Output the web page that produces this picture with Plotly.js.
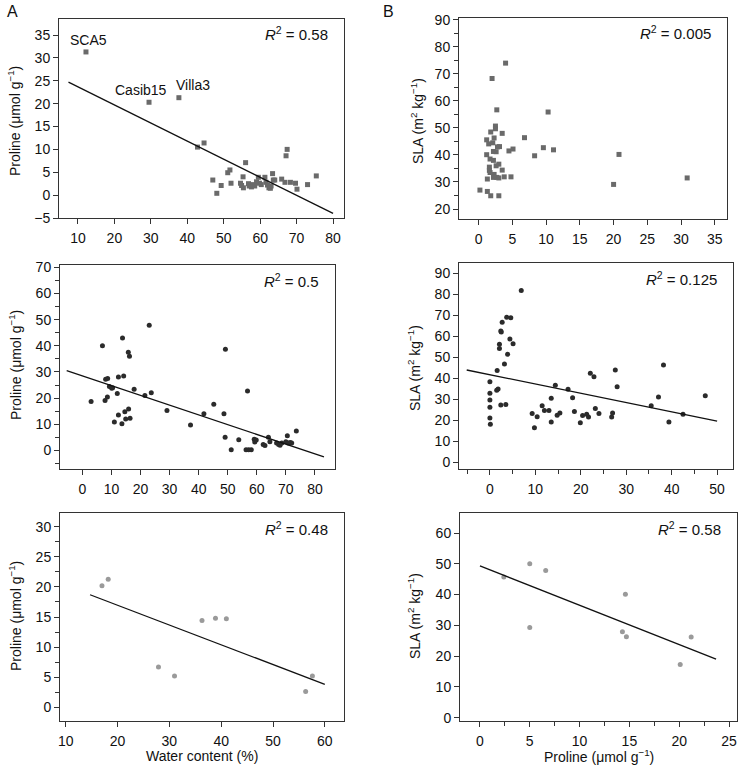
<!DOCTYPE html>
<html>
<head>
<meta charset="utf-8">
<script src="https://cdn.plot.ly/plotly-3.0.1.min.js"></script>
<style>
  body { margin: 0; background: #fff; }
  #plotlyDiv { width: 740px; height: 771px; }
</style>
</head>
<body>
<div id="plotlyDiv"></div>
<script>
// Panel A, top: water content vs proline (squares)
const p1Water = [12.2, 29.5, 37.7, 42.8, 44.6, 47.0, 48.1, 49.3, 51.1, 51.7, 52.0, 55.3, 54.6, 54.9, 55.4, 56.0, 56.8, 57.0, 57.6, 58.0, 58.5, 59.0, 59.5, 59.8, 60.3, 61.3, 61.6, 62.0, 62.4, 62.8, 63.0, 63.4, 63.6, 64.0, 65.9, 66.8, 67.1, 67.4, 68.3, 69.7, 70.1, 73.0, 75.4];
const p1Proline = [31.3, 20.3, 21.3, 10.5, 11.4, 3.3, 0.4, 2.1, 4.9, 5.5, 2.6, 4.0, 2.6, 2.1, 1.6, 7.1, 2.5, 2.0, 1.8, 2.3, 2.0, 2.9, 3.9, 2.6, 2.3, 3.9, 2.8, 2.2, 1.6, 1.5, 2.0, 4.7, 3.3, 3.3, 3.5, 2.8, 8.6, 10.0, 2.8, 2.6, 1.3, 2.3, 4.2];
const p1FitX = [7.4, 80];
const p1FitY = [24.7, -4.0];
const p1Names = ["SCA5", "Casib15", "Villa3"];

// Panel B, top: proline vs SLA (squares)
const p2Proline = [0.2, 1.3, 1.8, 3.0, 1.3, 1.2, 1.2, 1.5, 1.8, 2.0, 2.7, 2.5, 2.5, 2.3, 2.1, 3.5, 4.0, 3.1, 2.8, 2.6, 2.2, 1.7, 2.2, 1.6, 1.6, 1.7, 3.0, 2.6, 3.5, 2.3, 2.2, 2.7, 3.0, 3.8, 4.8, 4.5, 5.1, 6.8, 8.3, 9.6, 10.3, 11.1, 20.0, 20.8, 30.9];
const p2SLA = [27.0, 26.5, 24.9, 24.9, 31.1, 40.1, 45.6, 44.1, 48.5, 68.3, 56.7, 50.7, 49.7, 46.3, 44.5, 48.0, 74.0, 43.1, 43.0, 41.2, 41.3, 38.5, 38.0, 35.5, 34.3, 33.5, 36.6, 36.0, 34.4, 32.8, 31.7, 31.7, 31.5, 31.9, 31.9, 41.5, 42.2, 46.4, 39.7, 42.7, 55.9, 41.9, 29.1, 40.2, 31.5];

// Panel A, middle: water content vs proline (black dots)
const p3Water = [3.0, 6.9, 7.8, 8.0, 8.7, 8.6, 9.3, 10.1, 10.4, 11.0, 12.4, 12.0, 12.4, 13.8, 13.6, 14.2, 14.6, 14.9, 15.8, 16.2, 15.9, 16.4, 17.8, 21.5, 23.0, 23.7, 29.1, 37.2, 41.8, 45.2, 48.7, 49.2, 49.1, 51.2, 53.8, 56.8, 56.3, 57.2, 58.1, 59.1, 59.3, 59.8, 62.2, 62.8, 64.0, 64.5, 66.8, 67.5, 68.0, 68.6, 70.0, 70.5, 70.8, 71.5, 72.0, 73.6];
const p3Proline = [18.7, 40.0, 19.1, 27.2, 27.5, 20.4, 24.4, 23.8, 24.0, 10.9, 28.1, 21.8, 13.5, 43.0, 10.2, 28.5, 14.8, 12.0, 37.5, 36.0, 15.8, 12.3, 23.4, 21.0, 47.9, 22.1, 15.3, 9.7, 14.0, 17.7, 14.0, 38.7, 5.0, 0.3, 4.1, 22.7, 0.3, 0.3, 0.3, 4.3, 3.2, 4.0, 2.3, 1.9, 5.0, 3.3, 2.8, 2.3, 2.0, 2.8, 3.3, 5.6, 2.8, 3.0, 2.8, 7.4];
const p3FitX = [-5.4, 83.1];
const p3FitY = [30.5, -2.5];

// Panel B, middle: proline vs SLA (black dots)
const p4Proline = [0, 0, 0, 0, 0, 0.1, 1.6, 1.5, 1.8, 2.1, 2.1, 2.4, 2.5, 2.4, 2.7, 3.2, 3.7, 4.6, 3.9, 3.5, 4.4, 5.1, 6.9, 9.3, 9.8, 10.4, 11.5, 12.0, 13.0, 13.5, 13.5, 14.4, 14.8, 15.4, 17.2, 18.2, 18.6, 19.9, 20.4, 21.3, 21.7, 22.1, 22.9, 23.2, 24.0, 26.8, 27.0, 27.6, 28.0, 35.5, 37.1, 38.2, 39.4, 42.5, 47.4];
const p4SLA = [38.3, 32.8, 29.6, 26.2, 21.1, 18.1, 43.7, 34.3, 34.8, 56.1, 54.1, 62.5, 62.0, 27.2, 66.6, 46.7, 69.0, 68.7, 51.4, 27.5, 58.7, 56.4, 81.7, 23.2, 16.4, 21.6, 26.9, 24.6, 24.6, 30.5, 19.1, 36.7, 22.4, 23.5, 34.7, 30.7, 24.2, 18.8, 22.3, 22.9, 21.5, 42.3, 40.7, 25.6, 23.2, 21.5, 23.5, 43.9, 35.9, 26.9, 31.0, 46.3, 19.2, 22.9, 31.6];
const p4FitX = [-5.1, 50];
const p4FitY = [43.9, 19.6];

// Panel A, bottom: water content vs proline (grey dots)
const p5Water = [17.0, 18.2, 27.9, 31.0, 36.3, 38.9, 41.0, 56.3, 57.6];
const p5Proline = [20.2, 21.3, 6.7, 5.2, 14.4, 14.8, 14.7, 2.6, 5.2];
const p5FitX = [14.7, 60];
const p5FitY = [18.7, 3.8];

// Panel B, bottom: proline vs SLA (grey dots)
const p6Proline = [2.4, 5.0, 5.0, 6.6, 14.3, 14.6, 14.7, 20.1, 21.2];
const p6SLA = [45.7, 50.0, 29.3, 47.8, 27.9, 40.1, 26.3, 17.3, 26.2];
const p6FitX = [0, 23.7];
const p6FitY = [49.3, 19.0];

const rSquared = ["0.58", "0.005", "0.5", "0.125", "0.48", "0.58"];

const W = 740, H = 771;
const FONT = "Liberation Sans, Arial, sans-serif";

function pts(x, y, n, symbol, color) {
  return {
    x: x, y: y, xaxis: 'x' + (n === 1 ? '' : n), yaxis: 'y' + (n === 1 ? '' : n),
    type: 'scatter', mode: 'markers',
    marker: { symbol: symbol, size: 5, color: color },
    hoverinfo: 'x+y', showlegend: false
  };
}

function fit(x, y, n) {
  return {
    x: x, y: y, xaxis: 'x' + (n === 1 ? '' : n), yaxis: 'y' + (n === 1 ? '' : n),
    type: 'scatter', mode: 'lines',
    line: { color: '#111', width: 1.3 },
    hoverinfo: 'skip', showlegend: false
  };
}

const data = [
  pts(p1Water, p1Proline, 1, 'square', '#6a6a6a'),
  fit(p1FitX, p1FitY, 1),
  pts(p2Proline, p2SLA, 2, 'square', '#6a6a6a'),
  pts(p3Water, p3Proline, 3, 'circle', '#2b2b2b'),
  fit(p3FitX, p3FitY, 3),
  pts(p4Proline, p4SLA, 4, 'circle', '#2b2b2b'),
  fit(p4FitX, p4FitY, 4),
  pts(p5Water, p5Proline, 5, 'circle', '#9a9a9a'),
  fit(p5FitX, p5FitY, 5),
  pts(p6Proline, p6SLA, 6, 'circle', '#9a9a9a'),
  fit(p6FitX, p6FitY, 6)
];

// pixel boxes of each panel: [left, right, top, bottom]
const boxes = [
  [59, 344, 19, 218],
  [459, 727, 18, 219],
  [60, 335, 265, 469],
  [459, 733, 263, 469],
  [60, 344, 513, 721],
  [460, 737, 513, 721]
];

const xRanges = [[4.8, 83], [-2.9, 36.8], [-7.7, 86.9], [-6.8, 53.5], [8.9, 63.7], [-2.0, 25.8]];
const yRanges = [[-5.0, 38.5], [16.3, 90.7], [-7.1, 70.9], [-3.2, 94.8], [-2.3, 32.3], [-1.1, 66.5]];
const xDticks = [10, 5, 10, 10, 10, 5];
const yDticks = [5, 10, 10, 10, 5, 10];
const xMinor = [null, null, null, 5, null, 2.5];
const yMinor = [null, 5, 5, null, 2.5, null];

function axis(range, dtick, minor, domain, anchor) {
  const a = {
    domain: domain, range: range, anchor: anchor,
    tickmode: 'linear', tick0: 0, dtick: dtick,
    ticks: 'outside', ticklen: 5, tickwidth: 1, tickcolor: '#333',
    showline: true, mirror: true, linecolor: '#333', linewidth: 1,
    showgrid: false, zeroline: false,
    tickfont: { family: FONT, size: 14, color: '#111' }
  };
  if (minor) {
    a.minor = { dtick: minor, tick0: 0, ticks: 'outside', ticklen: 4, tickwidth: 1, tickcolor: '#333', showgrid: false };
  }
  return a;
}

const plotLayout = {
  width: W, height: H,
  margin: { l: 0, r: 0, t: 0, b: 0 },
  paper_bgcolor: '#fff', plot_bgcolor: '#fff',
  font: { family: FONT, size: 14, color: '#111' },
  showlegend: false,
  annotations: []
};

for (let i = 0; i < 6; i++) {
  const n = i + 1;
  const b = boxes[i];
  const sfx = n === 1 ? '' : n;
  plotLayout['xaxis' + sfx] = axis(xRanges[i], xDticks[i], xMinor[i], [b[0] / W, b[1] / W], 'y' + sfx);
  plotLayout['yaxis' + sfx] = axis(yRanges[i], yDticks[i], yMinor[i], [1 - b[3] / H, 1 - b[2] / H], 'x' + sfx);
  plotLayout['xaxis' + sfx].ticklabelstandoff = 2;
  // R squared in the top right corner
  plotLayout.annotations.push({
    xref: 'paper', yref: 'paper',
    x: (b[1] - 14) / W, y: 1 - (b[2] + 15) / H,
    xanchor: 'right', yanchor: 'middle', showarrow: false,
    text: '<i>R</i><sup>2</sup> = ' + rSquared[i],
    font: { family: FONT, size: 15, color: '#111' }
  });
}

// y-axis titles
const prolineTitle = 'Proline (μmol g<sup>−1</sup>)';
const slaTitle = 'SLA (m<sup>2</sup> kg<sup>−1</sup>)';
[[14, 121, prolineTitle], [417, 121, slaTitle], [15, 365, prolineTitle],
 [414, 368, slaTitle], [15, 616, prolineTitle], [414, 616, slaTitle]].forEach(function (t) {
  plotLayout.annotations.push({
    xref: 'paper', yref: 'paper', x: t[0] / W, y: 1 - t[1] / H,
    xanchor: 'center', yanchor: 'middle', textangle: -90, showarrow: false,
    text: t[2], font: { family: FONT, size: 14, color: '#111' }
  });
});

// x-axis titles
plotLayout.annotations.push({
  xref: 'paper', yref: 'paper', x: 202 / W, y: 1 - 756 / H,
  xanchor: 'center', yanchor: 'middle', showarrow: false,
  text: 'Water content (%)', font: { family: FONT, size: 14, color: '#111' }
});
plotLayout.annotations.push({
  xref: 'paper', yref: 'paper', x: 599 / W, y: 1 - 756 / H,
  xanchor: 'center', yanchor: 'middle', showarrow: false,
  text: prolineTitle, font: { family: FONT, size: 14, color: '#111' }
});

// panel letters
[['A', 12], ['B', 389]].forEach(function (l) {
  plotLayout.annotations.push({
    xref: 'paper', yref: 'paper', x: l[1] / W, y: 1 - 12 / H,
    xanchor: 'center', yanchor: 'middle', showarrow: false,
    text: l[0], font: { family: FONT, size: 16, color: '#111' }
  });
});

// point labels on the top-left panel
const nameShift = [[3, 12], [-8, 12], [14, 13]];
for (let i = 0; i < p1Names.length; i++) {
  plotLayout.annotations.push({
    xref: 'x', yref: 'y', x: p1Water[i], y: p1Proline[i],
    xshift: nameShift[i][0], yshift: nameShift[i][1],
    xanchor: 'center', yanchor: 'middle', showarrow: false,
    text: p1Names[i], font: { family: FONT, size: 14, color: '#111' }
  });
}

Plotly.newPlot('plotlyDiv', data, plotLayout, { staticPlot: true });
</script>
</body>
</html>
